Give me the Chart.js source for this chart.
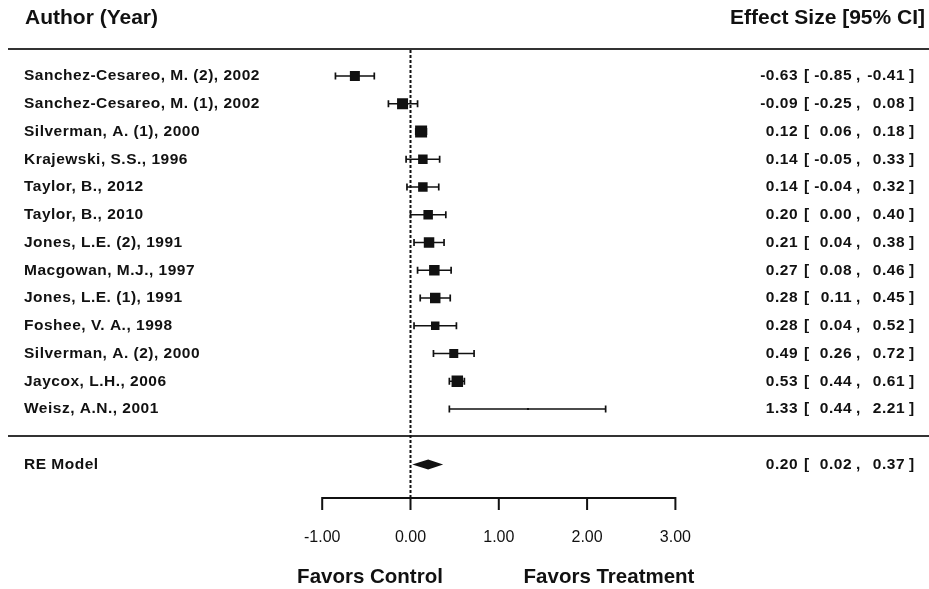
<!DOCTYPE html>
<html>
<head>
<meta charset="utf-8">
<script src="https://cdn.jsdelivr.net/npm/chart.js@4.4.1/dist/chart.umd.min.js"></script>
<style>
  body { margin: 0; background: #fff; }
  #wrap { width: 929px; height: 589px; position: relative; }
</style>
</head>
<body>
<div id="wrap"><canvas id="forest"></canvas></div>
<script>
// study rows, top to bottom
var studies = [
  'Sanchez-Cesareo, M. (2), 2002',
  'Sanchez-Cesareo, M. (1), 2002',
  'Silverman, A. (1), 2000',
  'Krajewski, S.S., 1996',
  'Taylor, B., 2012',
  'Taylor, B., 2010',
  'Jones, L.E. (2), 1991',
  'Macgowan, M.J., 1997',
  'Jones, L.E. (1), 1991',
  'Foshee, V. A., 1998',
  'Silverman, A. (2), 2000',
  'Jaycox, L.H., 2006',
  'Weisz, A.N., 2001'
];
var estimates = [-0.63, -0.09, 0.12, 0.14, 0.14, 0.20, 0.21, 0.27, 0.28, 0.28, 0.49, 0.53, 1.33];
var lower     = [-0.85, -0.25, 0.06, -0.05, -0.04, 0.00, 0.04, 0.08, 0.11, 0.04, 0.26, 0.44, 0.44];
var upper     = [-0.41, 0.08, 0.18, 0.33, 0.32, 0.40, 0.38, 0.46, 0.45, 0.52, 0.72, 0.61, 2.21];
// box side in px (study weight)
var boxSides  = [10, 11, 12, 9.5, 9.5, 9.5, 10.5, 10.5, 10.5, 8.5, 9, 11.5, 2];

var summaryLabel = 'RE Model';
var summaryEst = 0.20;
var summaryLower = 0.02;
var summaryUpper = 0.37;

var tickValues = [-1, 0, 1, 2, 3];
var tickLabels = ['-1.00', '0.00', '1.00', '2.00', '3.00'];

var summaryRow = studies.length + 2;
var ink = '#111';
var boldFont = 'bold 15.5px "Liberation Sans", Arial, sans-serif';

function fmt(v) { return v.toFixed(2); }

var forestPlugin = {
  id: 'forest',
  beforeDatasetsDraw: function(chart) {
    var ctx = chart.ctx, xs = chart.scales.x, ys = chart.scales.y;
    ctx.save();
    // header and separator lines
    ctx.strokeStyle = '#333';
    ctx.lineWidth = 2;
    ctx.beginPath();
    ctx.moveTo(8, 49); ctx.lineTo(929, 49);
    ctx.moveTo(8, 436); ctx.lineTo(929, 436);
    ctx.stroke();
    // reference line at 0
    ctx.strokeStyle = ink;
    ctx.lineWidth = 2;
    ctx.setLineDash([3, 2]);
    ctx.beginPath();
    ctx.moveTo(xs.getPixelForValue(0), 50);
    ctx.lineTo(xs.getPixelForValue(0), 498);
    ctx.stroke();
    ctx.setLineDash([]);
    // confidence intervals
    ctx.lineWidth = 1.7;
    for (var i = 0; i < studies.length; i++) {
      var y = ys.getPixelForValue(i + 1);
      var x1 = xs.getPixelForValue(lower[i]);
      var x2 = xs.getPixelForValue(upper[i]);
      ctx.beginPath();
      ctx.moveTo(x1, y); ctx.lineTo(x2, y);
      ctx.moveTo(x1, y - 3.5); ctx.lineTo(x1, y + 3.5);
      ctx.moveTo(x2, y - 3.5); ctx.lineTo(x2, y + 3.5);
      ctx.stroke();
    }
    ctx.restore();
  },
  afterDatasetsDraw: function(chart) {
    var ctx = chart.ctx, xs = chart.scales.x, ys = chart.scales.y;
    ctx.save();
    // summary diamond
    var yS = ys.getPixelForValue(summaryRow);
    ctx.fillStyle = ink;
    ctx.beginPath();
    ctx.moveTo(xs.getPixelForValue(summaryLower), yS);
    ctx.lineTo(xs.getPixelForValue(summaryEst), yS - 5);
    ctx.lineTo(xs.getPixelForValue(summaryUpper), yS);
    ctx.lineTo(xs.getPixelForValue(summaryEst), yS + 5);
    ctx.closePath();
    ctx.fill();

    // x axis
    var axisY = 498;
    ctx.strokeStyle = ink;
    ctx.lineWidth = 2;
    ctx.beginPath();
    ctx.moveTo(xs.getPixelForValue(tickValues[0]), axisY);
    ctx.lineTo(xs.getPixelForValue(tickValues[tickValues.length - 1]), axisY);
    tickValues.forEach(function(t) {
      var px = xs.getPixelForValue(t);
      ctx.moveTo(px, axisY - 1); ctx.lineTo(px, axisY + 12);
    });
    ctx.stroke();
    ctx.font = '16px "Liberation Sans", Arial, sans-serif';
    ctx.textAlign = 'center';
    ctx.textBaseline = 'middle';
    tickValues.forEach(function(t, k) {
      ctx.fillText(tickLabels[k], xs.getPixelForValue(t), 538);
    });

    // headers and favors labels
    ctx.font = 'bold 21px "Liberation Sans", Arial, sans-serif';
    ctx.textAlign = 'left';
    ctx.fillText('Author (Year)', 25, 18);
    ctx.textAlign = 'right';
    ctx.fillText('Effect Size [95% CI]', 925, 18);
    ctx.font = 'bold 20.5px "Liberation Sans", Arial, sans-serif';
    ctx.textAlign = 'center';
    ctx.fillText('Favors Control', 370, 577);
    ctx.fillText('Favors Treatment', 609, 577);

    // row text
    ctx.font = boldFont;
    ctx.letterSpacing = '0.5px';
    function rowText(label, est, lo, hi, row) {
      var y = ys.getPixelForValue(row);
      ctx.textAlign = 'left';
      ctx.fillText(label, 24, y);
      ctx.textAlign = 'right';
      ctx.fillText(fmt(est), 798, y);
      ctx.fillText(fmt(lo), 852, y);
      ctx.fillText(fmt(hi), 905, y);
      ctx.textAlign = 'left';
      ctx.fillText('[', 804, y);
      ctx.fillText(',', 856, y);
      ctx.fillText(']', 909, y);
    }
    for (var i = 0; i < studies.length; i++) {
      rowText(studies[i], estimates[i], lower[i], upper[i], i + 1);
    }
    rowText(summaryLabel, summaryEst, summaryLower, summaryUpper, summaryRow);
    ctx.restore();
  }
};

var ctx = document.getElementById('forest').getContext('2d');
new Chart(ctx, {
  type: 'scatter',
  data: {
    datasets: [{
      label: 'Studies',
      data: estimates.map(function(v, i) { return { x: v, y: i + 1 }; }),
      pointStyle: 'rect',
      pointRadius: boxSides.map(function(s) { return s / 2 / Math.SQRT1_2; }),
      backgroundColor: ink,
      borderWidth: 0
    }]
  },
  options: {
    responsive: true,
    maintainAspectRatio: false,
    animation: false,
    layout: { padding: 0, autoPadding: false },
    plugins: { legend: { display: false }, tooltip: { enabled: false } },
    scales: {
      x: { type: 'linear', display: false, min: -410.5 / 88.3, max: 518.5 / 88.3 },
      y: { type: 'linear', display: false, reverse: true, min: 1 - 76 / 27.75, max: 1 + 513 / 27.75 }
    }
  },
  plugins: [forestPlugin]
});
</script>
</body>
</html>
